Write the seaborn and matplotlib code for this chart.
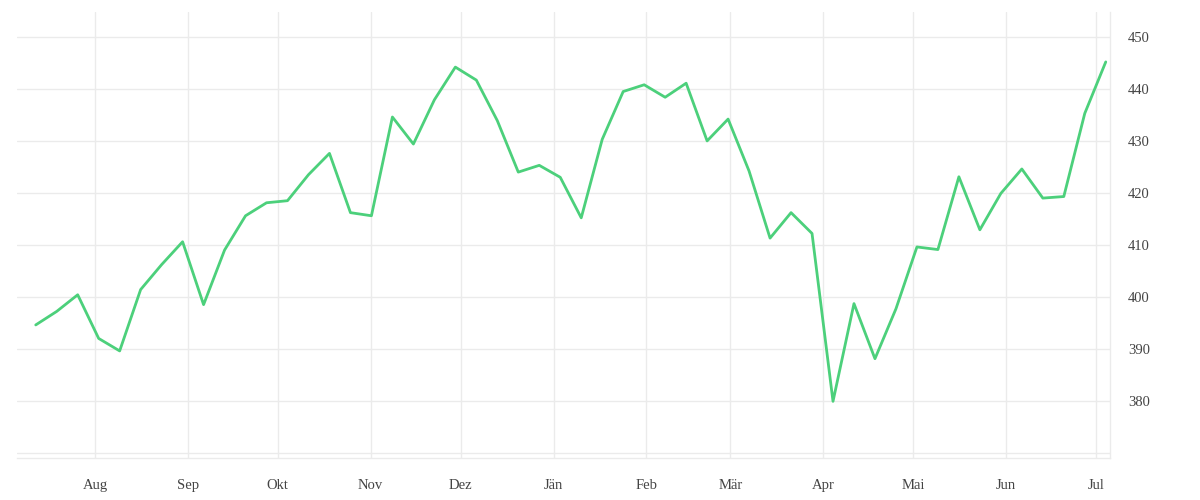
import numpy as np
import pandas as pd
import matplotlib.pyplot as plt
import matplotlib.dates as mdates
import seaborn as sns

# weekly values, Jul 12 -> Jul 4 of the following year
start = "2022-07-12 06:00"
values = [394.6, 397.2, 400.4, 392.0, 389.6, 401.4, 406.2, 410.6, 398.5, 409.0,
          415.6, 418.1, 418.5, 423.5, 427.6, 416.2, 415.6, 434.6, 429.4, 437.9,
          444.2, 441.7, 433.9, 424.0, 425.3, 423.0, 415.2, 430.3, 439.5, 440.8,
          438.4, 441.1, 430.0, 434.2, 424.2, 411.3, 416.2, 412.2, 379.9, 398.7,
          388.1, 397.7, 409.6, 409.1, 423.1, 412.9, 419.9, 424.6, 419.0, 419.3,
          435.3, 445.2]
month_labels = ["Aug", "Sep", "Okt", "Nov", "Dez", "Jän", "Feb", "Mär", "Apr", "Mai", "Jun", "Jul"]
y_ticks = [380, 390, 400, 410, 420, 430, 440, 450]

df = pd.DataFrame({"date": pd.date_range(start, periods=len(values), freq="7D"),
                   "value": values})
month_starts = pd.date_range("2022-08-01", periods=len(month_labels), freq="MS")

sns.set_style("white")
plt.rcParams["font.family"] = ["Liberation Serif", "DejaVu Serif"]

grid_col = "#ebebeb"
fig = plt.figure(figsize=(12, 5), dpi=100)
ax = fig.add_axes([17 / 1200, 42 / 500, 1093 / 1200, 446 / 500])

sns.lineplot(data=df, x="date", y="value", color="#4cd07b", linewidth=2.0, ax=ax)

ax.set_xlim(pd.Timestamp("2022-07-06"), pd.Timestamp("2023-07-05 16:00"))
ax.set_ylim(369.0, 454.8)

ax.set_xticks(month_starts)
ax.set_xticklabels(month_labels)
ax.set_yticks(y_ticks)
ax.set_yticks([370], minor=True)
ax.yaxis.tick_right()

ax.grid(True, which="major", color=grid_col, linewidth=1)
ax.grid(True, which="minor", axis="y", color=grid_col, linewidth=1)

for s in ["top", "left"]:
    ax.spines[s].set_visible(False)
for s in ["bottom", "right"]:
    ax.spines[s].set_color(grid_col)
    ax.spines[s].set_linewidth(1)

ax.tick_params(axis="x", which="major", length=7, color=grid_col, width=1,
               pad=8, labelsize=10.5, labelcolor="#444444")
ax.tick_params(axis="y", which="both", length=0, pad=13, labelsize=10.5, labelcolor="#444444")
ax.tick_params(axis="y", which="minor", right=False)
ax.set_xlabel("")
ax.set_ylabel("")

plt.savefig("out.png", dpi=100)
